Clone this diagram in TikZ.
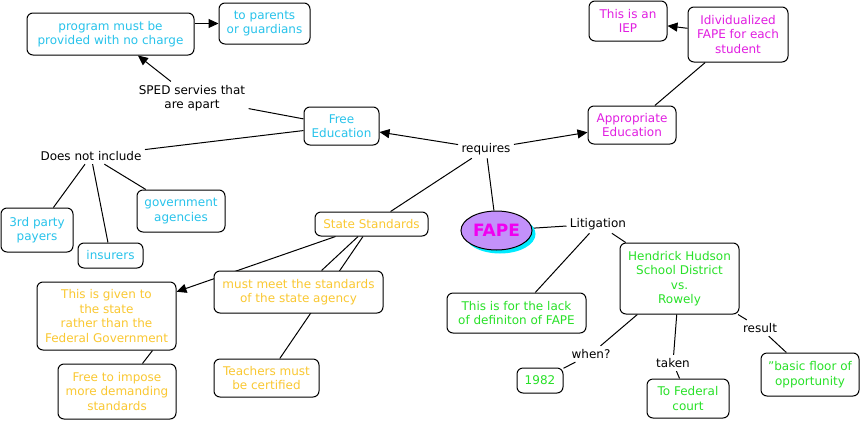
\documentclass[tikz,border=0pt]{standalone}
\usepackage{fontspec}
\setmainfont{DejaVu Sans}
\usetikzlibrary{arrows.meta,shapes.geometric,backgrounds}
\definecolor{cblue}{RGB}{40,195,235}
\definecolor{cmag}{RGB}{225,30,225}
\definecolor{cgold}{RGB}{250,200,50}
\definecolor{cgreen}{RGB}{40,225,40}
\definecolor{fapefill}{RGB}{195,145,250}
\definecolor{fapeshade}{RGB}{0,235,255}
\definecolor{fapetext}{RGB}{240,0,240}
\tikzset{
  concept/.style={draw=black, line width=1pt, rounded corners=6pt, fill=white,
    inner sep=0pt, align=center, font=\fontsize{12}{14.5}\selectfont},
  bluec/.style={concept, text=cblue},
  magc/.style={concept, text=cmag},
  goldc/.style={concept, text=cgold},
  greenc/.style={concept, text=cgreen},
  linkp/.style={inner sep=2pt, outer sep=1.5pt, align=center, text=black,
    font=\fontsize{12}{14.5}\selectfont},
  conn/.style={draw=black, line width=1pt},
  arr/.style={conn, -{Triangle[length=10pt,width=9pt]}},
}
\begin{document}
\begin{tikzpicture}[x=1pt,y=-1pt]
\useasboundingbox (0,0) rectangle (862,421);
% concepts
\node[bluec, minimum width=167, minimum height=42] (prog) at (110.5,34) {program must be\\provided with no charge};
\node[bluec, minimum width=91, minimum height=41] (parents) at (264.5,23.5) {to parents\\or guardians};
\node[bluec, minimum width=75, minimum height=38] (free) at (341.5,126) {Free\\Education};
\node[bluec, minimum width=72, minimum height=44] (third) at (37,230) {3rd party\\payers};
\node[bluec, minimum width=65, minimum height=25] (insurers) at (110.5,255.5) {insurers};
\node[bluec, minimum width=88, minimum height=42] (gov) at (181,211) {government\\agencies};
\node[magc, minimum width=88, minimum height=38] (approp) at (632,125) {Appropriate\\Education};
\node[magc, minimum width=78, minimum height=40] (iep) at (628,21) {This is an\\IEP};
\node[magc, minimum width=100, minimum height=55] (indiv) at (738,34.5) {Idividualized\\FAPE for each\\student};
\node[goldc, minimum width=113, minimum height=24] (ss) at (371.5,224) {State Standards};
\node[goldc, minimum width=169, minimum height=42] (must) at (298.5,292) {must meet the standards\\of the state agency};
\node[goldc, minimum width=139, minimum height=68] (given) at (106.5,316) {This is given to\\the state\\rather than the\\Federal Government};
\node[goldc, minimum width=118, minimum height=55] (freeimp) at (117,391.5) {Free to impose\\more demanding\\standards};
\node[goldc, minimum width=105, minimum height=38] (teach) at (266.5,378) {Teachers must\\be certified};
\node[greenc, minimum width=119, minimum height=71] (hend) at (679.5,278.5) {Hendrick Hudson\\School District\\vs.\\Rowely};
\node[greenc, minimum width=139, minimum height=40] (lack) at (516.5,313) {This is for the lack\\of definiton of FAPE};
\node[greenc, minimum width=46, minimum height=25] (y1982) at (540,380.5) {1982};
\node[greenc, minimum width=82, minimum height=39] (fed) at (688,398.5) {To Federal\\court};
\node[greenc, minimum width=98, minimum height=43] (basic) at (810,374.5) {\char34 basic floor of\\opportunity};
% FAPE
\node[ellipse, fill=fapeshade, minimum width=71, minimum height=39, inner sep=0pt] (fapesh) at (500,234) {};
\node[ellipse, draw=black, line width=1pt, fill=fapefill, minimum width=71, minimum height=39, inner sep=0pt,
  text=fapetext, font=\fontsize{17}{18}\selectfont\bfseries] (fape) at (496.5,230.5) {FAPE};
% linking phrases
\node[linkp] (sped) at (192,98) {SPED servies that\\are apart};
\node[linkp] (dni) at (91,156) {Does not include};
\node[linkp] (req) at (486,149) {requires};
\node[linkp] (litig) at (598,224) {Litigation};
\node[linkp] (when) at (591,354) {when?};
\node[linkp] (taken) at (673,363) {taken};
\node[linkp] (result) at (760,328) {result};
% connectors
\begin{pgfonlayer}{background}
\draw[arr] (prog.east |- parents.west) -- (parents.west);
\draw[arr] (sped) -- (prog);
\draw[conn] (free) -- (sped);
\draw[conn] (free) -- (dni);
\draw[conn] (dni) -- (third);
\draw[conn] (dni) -- (insurers);
\draw[conn] (dni) -- (gov);
\draw[arr] (req) -- (free);
\draw[arr] (req) -- (approp);
\draw[conn] (req) -- (ss);
\draw[conn] (req) -- (fape);
\draw[arr] (indiv) -- (iep);
\draw[conn] (indiv) -- (approp);
\draw[arr] (ss) -- (given);
\draw[conn] (ss) -- (must);
\draw[conn] (ss) -- (teach);
\draw[conn] ([xshift=-24pt]given.south east) -- ([xshift=-34pt]freeimp.north east);
\draw[conn] (fape) -- (litig);
\draw[conn] (litig) -- (lack);
\draw[conn] (litig) -- (hend);
\draw[conn] (hend) -- (when);
\draw[conn] (when) -- (y1982);
\draw[conn] (hend) -- (taken);
\draw[conn] (taken) -- (fed);
\draw[conn] (hend) -- (result);
\draw[conn] (result) -- (basic);
\end{pgfonlayer}
\end{tikzpicture}
\end{document}
